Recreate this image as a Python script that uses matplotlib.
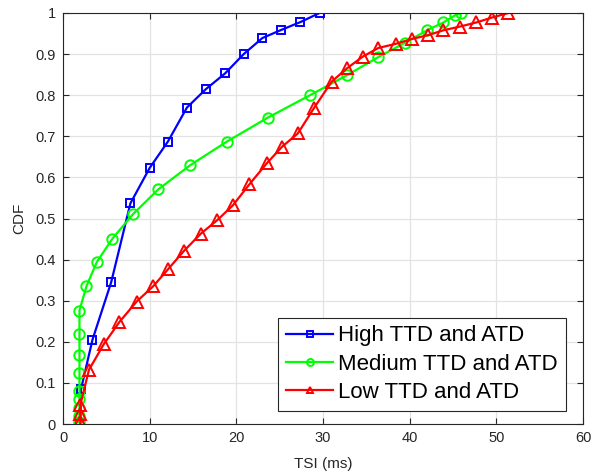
import numpy as np
import matplotlib
matplotlib.use('Agg')
import matplotlib.pyplot as plt

# series
high_x = [2.0, 2.07, 3.4, 5.56, 7.78, 10.0, 12.1, 14.3, 16.5, 18.7, 20.85, 23.0, 25.2, 27.4, 29.6]
high_y = [0.0, 0.084, 0.205, 0.345, 0.537, 0.623, 0.687, 0.770, 0.815, 0.853, 0.900, 0.939, 0.959, 0.978, 1.0]

medium_x = [1.9, 1.9, 1.9, 1.9, 1.9, 1.9, 1.9, 1.9, 1.9, 2.7, 3.9, 5.7, 8.05, 11.0, 14.7,
            18.9, 23.6, 28.5, 32.8, 36.4, 39.5, 42.0, 43.9, 45.2, 45.9]
medium_y = [0.004, 0.02, 0.04, 0.06, 0.08, 0.123, 0.169, 0.22, 0.276, 0.335, 0.394, 0.451, 0.510, 0.571, 0.630,
            0.687, 0.745, 0.80, 0.849, 0.893, 0.928, 0.958, 0.977, 0.994, 1.0]

low_x = [2.0, 2.0, 2.0, 3.0, 4.7, 6.5, 8.5, 10.4, 12.1, 13.95, 15.9, 17.8, 19.6, 21.5, 23.5, 25.3,
         27.1, 29.0, 31.0, 32.8, 34.6, 36.4, 38.4, 40.3, 42.1, 43.9, 45.8, 47.7, 49.5, 51.4]
low_y = [0.004, 0.024, 0.047, 0.132, 0.194, 0.248, 0.298, 0.335, 0.376, 0.421, 0.463, 0.496, 0.532, 0.583, 0.634, 0.675,
         0.707, 0.770, 0.833, 0.866, 0.894, 0.915, 0.925, 0.937, 0.946, 0.958, 0.967, 0.977, 0.989, 1.0]

labels = ['High TTD and ATD', 'Medium TTD and ATD', 'Low TTD and ATD']

plt.rcParams['font.family'] = ['Liberation Sans', 'DejaVu Sans']

fig = plt.figure(figsize=(5.92, 4.74), dpi=100)
ax = fig.add_axes([63 / 592, 50 / 474, 520 / 592, 411 / 474])

ax.plot(high_x, high_y, color='#0000ff', lw=1.6, marker='s', ms=6, mfc='none', mew=1.4, label=labels[0])
ax.plot(medium_x, medium_y, color='#00ff00', lw=1.6, marker='o', ms=7.5, mfc='none', mew=1.4, label=labels[1])
ax.plot(low_x, low_y, color='#ff0000', lw=1.6, marker='^', ms=8.5, mfc='none', mew=1.4, label=labels[2])

ax.set_xlim(0, 60)
ax.set_ylim(0, 1)
ax.set_xticks(np.arange(0, 61, 10))
ax.set_yticks(np.arange(0, 1.01, 0.1))
ax.set_yticklabels(['0', '0.1', '0.2', '0.3', '0.4', '0.5', '0.6', '0.7', '0.8', '0.9', '1'])

ax.grid(True, color='#e3e3e3', lw=0.9)
ax.set_axisbelow(True)
ax.tick_params(direction='in', top=True, right=True, length=4, width=0.8,
               colors='#262626', labelsize=10.5, pad=5)
for side in ax.spines.values():
    side.set_color('#262626')
    side.set_linewidth(0.8)

ax.set_xlabel('TSI (ms)', fontsize=11, color='#262626', labelpad=9)
ax.set_ylabel('CDF', fontsize=11, color='#262626', labelpad=7)

leg = ax.legend(loc='lower right', bbox_to_anchor=(0.967, 0.032), fontsize=16, fancybox=False,
                framealpha=1, edgecolor='#262626', handlelength=2.1, handletextpad=0.25,
                borderpad=0.35, labelspacing=0.33, borderaxespad=0)
leg.get_frame().set_linewidth(0.8)
# smaller markers inside the legend, like the original
for h in leg.legend_handles:
    h.set_markersize(5)

fig.savefig('out.png', dpi=100)
